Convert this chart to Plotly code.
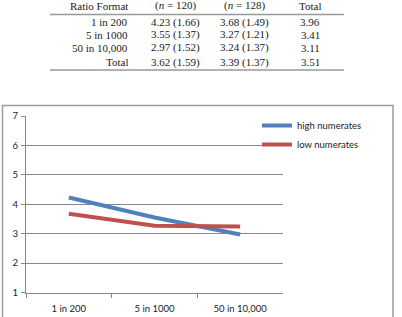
import plotly.graph_objects as go

# ---- data ----
ratio_formats = ["1 in 200", "5 in 1000", "50 in 10,000", "Total"]
high_mean = [4.23, 3.55, 2.97, 3.62]
high_sd = [1.66, 1.37, 1.52, 1.59]
low_mean = [3.68, 3.27, 3.24, 3.39]
low_sd = [1.49, 1.21, 1.37, 1.37]
row_total = [3.96, 3.41, 3.11, 3.51]
header = ["Ratio Format", "(<i>n</i> = 120)", "(<i>n</i> = 128)", "Total"]

categories = ratio_formats[:3]
high_numerates = high_mean[:3]
low_numerates = low_mean[:3]
y_ticks = [1, 2, 3, 4, 5, 6, 7]

W, H = 402, 317
def px(x):
    return x / W
def py(y):
    return 1 - y / H

fig = go.Figure()
fig.add_trace(go.Scatter(x=categories, y=high_numerates, mode="lines", name="high numerates",
                         line=dict(color="#4F81BD", width=4)))
fig.add_trace(go.Scatter(x=categories, y=low_numerates, mode="lines", name="low numerates",
                         line=dict(color="#C0504D", width=4)))

# ---- table (text + rules) ----
serif = dict(family="Liberation Serif, Times New Roman, serif", size=11, color="#1a1a1a")
row_y = [6, 22, 35, 48, 62]
col_x = [130, 175, 244, 310]
rows = [header] + [[ratio_formats[i], f"{high_mean[i]:.2f} ({high_sd[i]:.2f})",
                    f"{low_mean[i]:.2f} ({low_sd[i]:.2f})", f"{row_total[i]:.2f}"]
                   for i in range(len(ratio_formats))]
annotations = []
for r, row in enumerate(rows):
    for c, txt in enumerate(row):
        annotations.append(dict(
            text=txt, x=px(col_x[c]), y=py(row_y[r]), xref="paper", yref="paper",
            xanchor="right" if c == 0 else "center", yanchor="middle",
            showarrow=False, font=serif))

shapes = [
    dict(type="line", xref="paper", yref="paper", x0=px(50), x1=px(344), y0=py(14.5), y1=py(14.5),
         line=dict(color="#999", width=1.5)),
    dict(type="line", xref="paper", yref="paper", x0=px(50), x1=px(344), y0=py(70), y1=py(70),
         line=dict(color="#999", width=1.5)),
    dict(type="rect", xref="paper", yref="paper", x0=px(2.5), x1=px(393), y0=py(340), y1=py(105.5),
         line=dict(color="#9a9a9a", width=1.5), layer="below"),
]

sans = "Lato, Open Sans, sans-serif"
fig.update_layout(
    width=W, height=H, margin=dict(l=0, r=0, t=0, b=0, autoexpand=False),
    paper_bgcolor="white", plot_bgcolor="white",
    annotations=annotations, shapes=shapes,
    showlegend=True,
    legend=dict(x=px(257), y=py(111), xanchor="left", yanchor="top",
                font=dict(family=sans, size=9.5, color="#222"),
                bgcolor="rgba(0,0,0,0)", itemwidth=30, tracegroupgap=0),
    xaxis=dict(domain=[px(26), px(283)], type="category", categoryorder="array",
               categoryarray=categories, range=[-0.5, 2.5], tickson="boundaries",
               ticks="outside", ticklen=4, automargin=False,
               tickcolor="#888", showline=True, linecolor="#888", linewidth=1,
               showgrid=False, tickfont=dict(family=sans, size=9.5, color="#222"),
               ticklabelstandoff=7),
    yaxis=dict(domain=[1 - 292.5 / H, 1 - 116 / H], range=[1, 7], tickvals=y_ticks,
               ticks="outside", ticklen=4, tickcolor="#888", showline=True, linecolor="#888",
               linewidth=1, showgrid=True, gridcolor="#888", gridwidth=1, zeroline=False,
               automargin=False,
               tickfont=dict(family=sans, size=9.5, color="#222"), ticklabelstandoff=1),
)
fig.write_html("out.html")
